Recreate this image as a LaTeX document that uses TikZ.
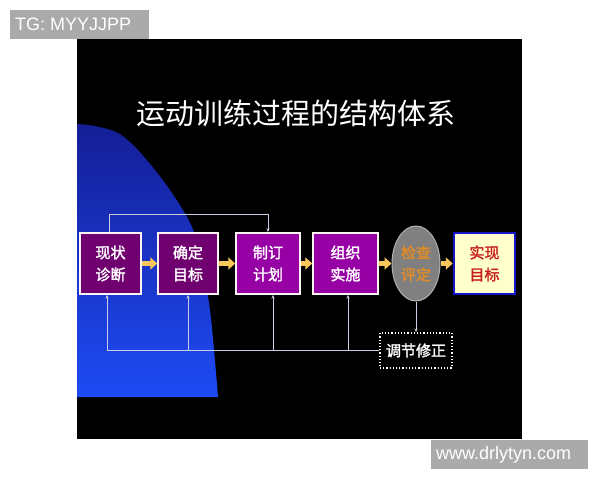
\documentclass[tikz,border=0pt]{standalone}
\usepackage{fontspec}
\setmainfont{Liberation Sans}
\newfontfamily\cjk{Noto Sans CJK SC}
\newfontfamily\cjkbold[FakeBold=2]{Noto Sans CJK SC}
\usetikzlibrary{shapes.geometric,arrows.meta}
\definecolor{stagepurple}{RGB}{112,0,112}
\definecolor{brightpurple}{RGB}{150,0,165}
\definecolor{flowyellow}{RGB}{250,200,90}
\definecolor{taggray}{RGB}{170,170,170}
\definecolor{linegray}{RGB}{205,205,225}
\definecolor{evalgray}{RGB}{128,128,128}
\definecolor{evalorange}{RGB}{225,140,40}
\definecolor{goalyellow}{RGB}{255,255,204}
\definecolor{goalblue}{RGB}{20,20,200}
\definecolor{goalred}{RGB}{200,30,30}
\definecolor{bluetop}{RGB}{20,30,150}
\definecolor{bluemid}{RGB}{25,65,235}
\definecolor{bluebottom}{RGB}{30,75,245}

\tikzset{
  stagebox/.style={draw=white!85!pink, line width=1.5pt, minimum width=61pt,
    minimum height=61pt, text=white, align=center, inner sep=0pt,
    font=\cjkbold\fontsize{15}{22}\selectfont},
  flow/.style={flowyellow, line width=5pt, -{Triangle[length=7pt,width=12pt]}},
  feedback/.style={linegray, line width=0.8pt, -{Stealth[length=4pt,width=3pt]}},
  tag/.style={fill=taggray, text=white, inner xsep=5pt, inner ysep=0pt,
    minimum height=29pt, anchor=north west, font=\fontsize{18}{18}\selectfont}
}

\begin{document}
\begin{tikzpicture}[x=1pt,y=-1pt]
\useasboundingbox (0,0) rectangle (600,480);
\fill[white] (0,0) rectangle (600,480);

% Slide
\fill[black] (77,39) rectangle (522,439);
\shade[top color=bluetop, middle color=bluemid, bottom color=bluebottom]
  (77,397) -- plot[smooth] coordinates {(77,124) (95,126) (118,133) (138,150) (165,183) (187,217) (198,245) (210,310) (218,397)} -- cycle;

% Title
\node[text=white, font=\cjk\fontsize{29}{29}\selectfont] (title) at (296,113) {运动训练过程的结构体系};

% Stages
\node[stagebox, fill=stagepurple] (diag) at (110.5,263.5) {现状\\诊断};
\node[stagebox, fill=stagepurple, minimum width=60pt] (goal) at (188,263.5) {确定\\目标};
\node[stagebox, fill=brightpurple, minimum width=64pt] (plan) at (268,263.5) {制订\\计划};
\node[stagebox, fill=brightpurple, minimum width=65pt] (organize) at (345.5,263.5) {组织\\实施};
\node[ellipse, draw=gray!60!white, line width=1pt, fill=evalgray, minimum width=48pt,
  minimum height=75pt, inner sep=0pt, text=evalorange, align=center,
  font=\cjkbold\fontsize{15}{22}\selectfont] (eval) at (416,263.5) {检查\\评定};
\node[stagebox, draw=goalblue, line width=2.5pt, fill=goalyellow, text=goalred] (reach) at (484.5,263.5) {实现\\目标};

% Adjustment
\node[draw=white, dotted, line width=1.2pt, fill=black, text=white, minimum width=72pt,
  minimum height=35pt, font=\cjkbold\fontsize{15}{15}\selectfont] (adjust) at (416,350.5) {调节修正};

% Main flow
\draw[flow] (diag.east) -- (goal.west);
\draw[flow] (goal.east) -- (plan.west);
\draw[flow] (plan.east) -- (organize.west);
\draw[flow] (organize.east) -- (eval.west);
\draw[flow] (eval.east) -- (reach.west);

% Feedback
\draw[feedback] ([xshift=-1pt]diag.north) -- ++(0,-18) -| (plan.north);
\draw[feedback] (eval.south) -- (adjust.north);
\draw[feedback] (adjust.west) -| ([xshift=-3.5pt]diag.south);
\foreach \n/\dx in {goal/0, plan/5, organize/2.5}
  \draw[feedback] ([xshift=\dx pt]\n.south |- adjust.west) -- ([xshift=\dx pt]\n.south);

% Tags
\node[tag] (tg) at (10,10) {\makebox[129pt][l]{TG: MYYJJPP}};
\node[tag] (site) at (431,440) {\makebox[147pt][l]{www.drlytyn.com}};
\end{tikzpicture}
\end{document}
